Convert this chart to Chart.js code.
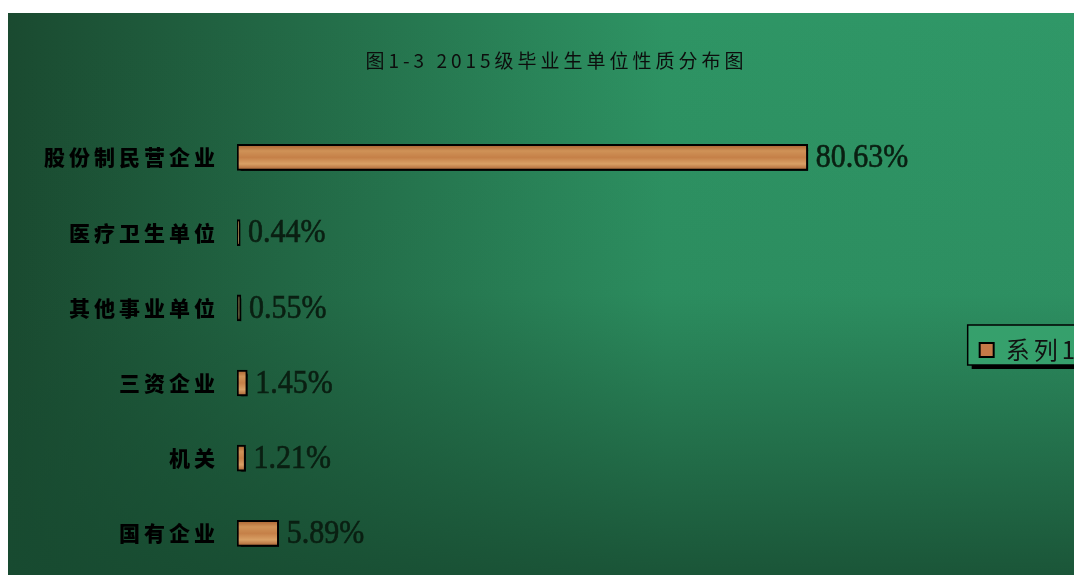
<!DOCTYPE html>
<html>
<head>
<meta charset="utf-8">
<script src="https://cdn.jsdelivr.net/npm/chart.js@4.4.1/dist/chart.umd.min.js"></script>
<style>
  html, body { margin: 0; padding: 0; background: #fff; overflow: hidden; }
  #chart { position: absolute; left: 8px; top: 13px; }
</style>
</head>
<body>
<canvas id="chart" width="1097" height="562"></canvas>
<script>
const titleText = '图1-3 2015级毕业生单位性质分布图'
const categories = ['股份制民营企业', '医疗卫生单位', '其他事业单位', '三资企业', '机关', '国有企业']
const values = [80.63, 0.44, 0.55, 1.45, 1.21, 5.89]
const seriesName = '系列1'

// wood-ish fill, one gradient per bar row
function woodFill(context) {
  const chart = context.chart
  const yScale = chart.scales.y
  if (!chart.chartArea || !yScale || context.dataIndex === undefined) return '#c8844a'
  const y = yScale.getPixelForValue(context.dataIndex)
  const g = chart.ctx.createLinearGradient(0, y - 13, 0, y + 13)
  g.addColorStop(0, '#a8602f')
  g.addColorStop(0.25, '#cf9257')
  g.addColorStop(0.5, '#c58048')
  g.addColorStop(0.75, '#d9a065')
  g.addColorStop(1, '#a65e30')
  return g
}

const backdrop = {
  id: 'backdrop',
  beforeDraw(chart) {
    const { ctx, width, height } = chart
    ctx.save()
    const h = ctx.createLinearGradient(0, 0, width, 0)
    h.addColorStop(0, '#1a4a30')
    h.addColorStop(0.6, '#2e9464')
    h.addColorStop(1, '#309868')
    ctx.fillStyle = h
    ctx.fillRect(0, 0, width, height)
    const v = ctx.createLinearGradient(0, 0, 0, height)
    v.addColorStop(0, 'rgba(23,74,48,0)')
    v.addColorStop(0.5, 'rgba(23,74,48,0.1)')
    v.addColorStop(1, 'rgba(23,74,48,0.85)')
    ctx.fillStyle = v
    ctx.fillRect(0, 0, width, height)

    // legend frame with drop shadow
    const hb = chart.legend.legendHitBoxes[0]
    if (hb) {
      const bx = hb.left - 12, by = hb.top - 13, bw = 200, bh = 40
      ctx.fillStyle = '#000'
      ctx.fillRect(bx + 4, by + 4, bw, bh)
      ctx.fillStyle = '#36a06c'
      ctx.fillRect(bx, by, bw, bh)
      ctx.strokeStyle = '#000'
      ctx.lineWidth = 1.5
      ctx.strokeRect(bx, by, bw, bh)
    }
    ctx.restore()
    ctx.letterSpacing = '4px'
  },
  beforeDatasetsDraw(chart) {
    const ctx = chart.ctx
    ctx.letterSpacing = '0px'
    ctx.save()
    ctx.shadowColor = '#000'
    ctx.shadowOffsetX = 4
    ctx.shadowOffsetY = 4
    ctx.shadowBlur = 0
  },
  afterDatasetsDraw(chart) {
    const ctx = chart.ctx
    ctx.restore()
    chart.getDatasetMeta(0).data.forEach((bar, i) => {
      ctx.save()
      ctx.translate(bar.x + 8, bar.y + 1)
      ctx.scale(1, 1.12)
      ctx.font = '30px "Liberation Serif"'
      ctx.fillStyle = '#0a1f12'
      ctx.strokeStyle = '#0a1f12'
      ctx.lineWidth = 0.6
      ctx.textBaseline = 'middle'
      ctx.textAlign = 'left'
      const s = values[i].toFixed(2) + '%'
      ctx.fillText(s, 0, 0)
      ctx.strokeText(s, 0, 0)
      ctx.restore()
    })
  }
}

new Chart(document.getElementById('chart'), {
  type: 'bar',
  data: {
    labels: categories,
    datasets: [{
      label: seriesName,
      data: values,
      backgroundColor: woodFill,
      borderColor: '#000',
      borderWidth: 2,
      borderSkipped: false,
      barThickness: 26
    }]
  },
  options: {
    indexAxis: 'y',
    responsive: false,
    animation: false,
    layout: { padding: { left: 28, right: 28, top: 0, bottom: 4 } },
    plugins: {
      title: {
        display: true,
        text: titleText,
        color: '#0d0d0d',
        font: { family: '"Noto Sans CJK SC"', size: 19, weight: 'normal' },
        padding: { top: 36, bottom: 48 }
      },
      legend: {
        position: 'right',
        align: 'center',
        // empty title only pushes the item down a bit
        title: {
          display: true,
          text: ' ',
          font: { family: '"Liberation Sans"', size: 20 },
          padding: { top: 46, bottom: 46 }
        },
        labels: {
          color: '#111',
          padding: 10,
          font: { family: '"Noto Sans CJK SC"', size: 24 },
          boxWidth: 14,
          boxHeight: 14,
          generateLabels(chart) {
            const items = Chart.defaults.plugins.legend.labels.generateLabels(chart)
            items.forEach(it => { it.fillStyle = '#c47a48'; it.strokeStyle = '#000'; it.lineWidth = 2 })
            return items
          }
        }
      },
      tooltip: { enabled: false }
    },
    scales: {
      x: { display: false, min: 0, max: 103.5 },
      y: {
        grid: { display: false },
        border: { display: false },
        afterFit(scale) {
          scale.width = 201
          scale.paddingTop = 0
          scale.paddingBottom = 0
        },
        ticks: {
          color: '#000',
          padding: 10,
          font: { family: '"Noto Sans CJK SC"', size: 21, weight: '900' }
        }
      }
    }
  },
  plugins: [backdrop]
})
</script>
</body>
</html>
